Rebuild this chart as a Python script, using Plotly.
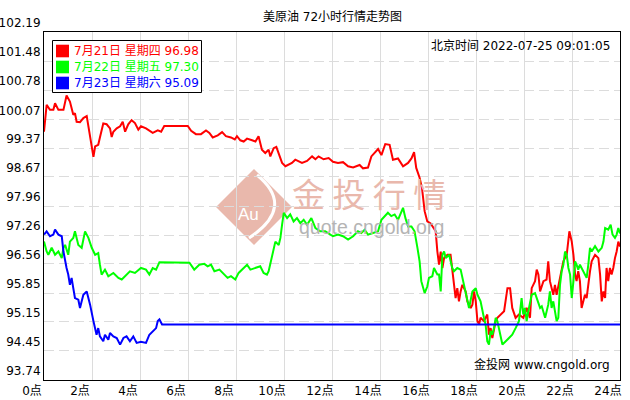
import plotly.graph_objects as go

# ---------------- data (hours since 0点, price) ----------------
red_hours = [
    0.0, 0.11, 0.25, 0.39, 0.46, 0.6, 0.81, 0.94, 1.08, 1.22, 1.29, 1.36, 1.5, 1.64, 1.78, 1.89, 1.99, 2.06, 2.13, 2.26,
    2.33, 2.4, 2.47, 2.61, 2.75, 2.82, 2.89, 3.03, 3.17, 3.28, 3.38, 3.51, 3.65, 3.79, 3.93,
    4.04, 4.25, 4.53, 4.74, 4.88, 5.01, 5.99, 6.13, 6.33, 6.54, 6.75, 6.89, 7.03, 7.24, 7.42, 7.58, 7.79, 7.95,
    8.04, 8.18, 8.32, 8.46, 8.67, 8.81, 8.94, 9.08, 9.22, 9.36, 9.43, 9.57, 9.68, 9.78, 9.92, 10.06, 10.19, 10.33,
    10.47, 10.61, 10.75, 10.96, 11.17, 11.31, 11.44, 11.65, 11.86,
    12.04, 12.25, 12.46, 12.67, 12.88, 13.15, 13.29, 13.5, 13.64, 13.78, 13.92, 14.06, 14.22, 14.4, 14.54, 14.75,
    14.96, 15.17, 15.31, 15.42, 15.51, 15.65, 15.75, 15.86,
    15.97, 16.11, 16.25, 16.32, 16.39, 16.46, 16.53, 16.6, 16.67, 16.81, 16.94, 17.01, 17.08, 17.15, 17.22, 17.29,
    17.36, 17.43, 17.5, 17.57, 17.64, 17.78, 17.85, 17.92, 17.99, 18.06, 18.13, 18.19, 18.33, 18.47, 18.54, 18.61,
    18.68, 18.75, 18.82, 18.89, 19.03, 19.17, 19.31, 19.42, 19.51, 19.65, 19.79,
    19.97, 20.11, 20.25, 20.32, 20.46, 20.53, 20.6, 20.67, 20.81, 20.94, 21.01, 21.08, 21.15, 21.22, 21.29, 21.36,
    21.5, 21.57, 21.64, 21.78, 21.89, 21.99, 22.06, 22.13, 22.19, 22.26, 22.33, 22.4, 22.47, 22.54, 22.61, 22.68,
    22.75, 22.82, 22.96, 23.1, 23.17, 23.24, 23.31, 23.38, 23.44, 23.51, 23.58, 23.65, 23.72, 23.79, 23.86, 23.93, 24.0,
]
red_price = [
    99.77, 100.42, 100.3, 100.3, 100.46, 100.3, 100.3, 100.65, 100.5, 100.18, 100.22, 100.01, 100.0, 100.1, 100.15,
    99.77, 99.35, 99.16, 99.41, 99.45, 99.63, 99.77, 99.97, 99.95, 99.85, 99.64, 99.77, 99.85, 99.9, 100.01, 99.77,
    99.95, 100.05, 99.98, 99.82,
    99.9, 99.85, 99.74, 99.8, 99.77, 99.91, 99.91, 99.79, 99.71, 99.71, 99.8, 99.74, 99.63, 99.68, 99.76, 99.66, 99.63, 99.58,
    99.66, 99.56, 99.53, 99.6, 99.56, 99.53, 99.66, 99.33, 99.25, 99.33, 99.17, 99.37, 99.4, 99.25, 99.01, 98.93, 98.96,
    99.01, 99.09, 99.04, 99.01, 99.06, 99.17, 99.1, 99.17, 99.1, 99.13,
    99.04, 99.01, 99.03, 98.93, 98.9, 98.96, 98.88, 98.9, 99.17, 99.25, 99.35, 99.2, 99.47, 99.45, 99.09, 99.12,
    98.93, 99.01, 99.12, 99.27, 98.89, 98.65, 98.4, 97.84,
    97.59, 97.54, 97.43, 97.35, 96.86, 96.54, 96.86, 96.46, 96.7, 96.78, 96.78, 96.38, 95.97, 95.73, 95.97, 95.65,
    95.89, 96.05, 95.97, 95.89, 95.65, 95.49, 95.57, 95.89, 95.65, 95.17, 95.09, 95.25, 95.17, 95.33, 94.84, 95.0,
    94.76, 95.0, 95.17, 95.25, 95.33, 95.41, 95.97, 95.97, 95.49, 95.25, 95.33,
    95.25, 95.49, 95.25, 95.97, 96.14, 96.42, 96.3, 95.89, 96.14, 96.18, 96.62, 96.14, 95.97, 95.81, 96.05, 95.81,
    96.22, 96.46, 96.62, 96.78, 97.35, 97.1, 96.78, 96.3, 96.14, 96.38, 96.14, 95.49, 95.65, 95.81, 95.73, 96.14,
    96.38, 96.62, 96.78, 96.7, 96.3, 95.65, 95.89, 95.73, 96.46, 96.14, 96.46, 96.3, 96.46, 96.7, 96.86, 97.1, 96.98,
]

green_hours = [
    0.0, 0.11, 0.18, 0.32, 0.46, 0.6, 0.74, 0.81, 0.88, 1.01, 1.08, 1.22, 1.29, 1.43, 1.57, 1.71, 1.85, 1.99, 2.13,
    2.26, 2.33, 2.4, 2.54, 2.68, 2.89, 3.1, 3.24, 3.38, 3.58, 3.79,
    4.04, 4.25, 4.39, 4.53, 4.67, 4.81, 6.06, 6.26, 6.47, 6.68, 6.82, 6.96, 7.1, 7.31, 7.51, 7.65, 7.79, 7.97,
    8.11, 8.25, 8.46, 8.6, 8.81, 9.01, 9.15, 9.29, 9.36, 9.5, 9.64, 9.78, 9.85, 9.92, 9.99, 10.13, 10.26, 10.4, 10.54,
    10.68, 10.82, 10.96, 11.14, 11.31, 11.51, 11.72, 11.93,
    12.04, 12.25, 12.46, 12.67, 12.88, 13.08, 13.22, 13.36, 13.5, 13.71, 13.92, 14.06, 14.19, 14.33, 14.47, 14.61,
    14.75, 14.89, 14.96, 15.06, 15.17, 15.31, 15.44, 15.56, 15.65, 15.72, 15.79, 15.86,
    15.97, 16.04, 16.18, 16.25, 16.39, 16.46, 16.53, 16.6, 16.67, 16.74, 16.88, 17.01, 17.08, 17.22, 17.36, 17.5,
    17.57, 17.71, 17.85, 17.99, 18.06, 18.19, 18.33, 18.4, 18.47, 18.54, 18.61, 18.68, 18.75, 18.82, 18.89, 19.0,
    19.1, 19.24, 19.38, 19.51, 19.65, 19.79,
    19.9, 19.97, 20.04, 20.11, 20.18, 20.32, 20.46, 20.53, 20.67, 20.74, 20.88, 21.01, 21.08, 21.15, 21.22, 21.36,
    21.43, 21.5, 21.57, 21.64, 21.71, 21.78, 21.85, 21.92, 21.99, 22.06, 22.13, 22.19, 22.26, 22.33, 22.47, 22.61,
    22.68, 22.75, 22.82, 22.96, 23.1, 23.24, 23.31, 23.38, 23.51, 23.61, 23.69, 23.79, 23.86, 23.93, 24.0,
]
green_price = [
    97.1, 96.86, 96.78, 96.95, 96.78, 96.86, 96.7, 96.95, 97.02, 96.78, 97.1, 97.19, 97.35, 97.02, 96.95, 97.35,
    97.19, 96.95, 96.78, 96.82, 96.54, 96.3, 96.42, 96.26, 96.34, 96.22, 96.18, 96.26, 96.38, 96.34,
    96.46, 96.42, 96.3, 96.46, 96.42, 96.6, 96.59, 96.42, 96.54, 96.56, 96.5, 96.54, 96.38, 96.42, 96.3, 96.22, 96.26, 96.18,
    96.34, 96.42, 96.54, 96.42, 96.46, 96.5, 96.34, 96.3, 96.38, 96.78, 97.1, 97.02, 97.19, 97.51, 97.8, 97.67, 97.76,
    97.59, 97.67, 97.55, 97.63, 97.51, 97.67, 97.43, 97.35, 97.35, 97.27,
    97.23, 97.27, 97.23, 97.15, 97.23, 97.35, 97.31, 97.39, 97.27, 97.31, 97.35, 97.63, 97.72, 97.8, 97.72, 97.76,
    97.63, 97.8, 97.92, 97.67, 97.47, 97.47, 97.35, 96.95, 96.62, 96.14, 95.97, 95.85,
    96.01, 96.22, 96.26, 96.46, 96.3, 96.3, 95.89, 96.78, 96.86, 96.7, 96.78, 96.46, 96.38, 96.46, 96.42, 96.05,
    95.89, 95.49, 95.89, 95.97, 95.81, 95.65, 95.25, 95.09, 94.68, 94.6, 94.93, 94.84, 95.0, 95.25, 95.17, 94.84,
    94.6, 94.68, 94.76, 94.84, 95.0, 95.17,
    95.73, 95.33, 95.49, 95.17, 95.41, 95.81, 95.85, 95.73, 95.49, 95.53, 95.25, 95.57, 95.89, 95.49, 95.65, 95.17,
    95.25, 96.05, 96.38, 96.54, 96.86, 96.78, 96.46, 96.3, 95.73, 96.14, 96.62, 96.54, 96.42, 96.54, 96.38, 96.22,
    96.54, 96.95, 96.86, 96.99, 96.86, 96.95, 97.1, 97.43, 97.39, 97.51, 97.27, 97.19, 97.27, 97.43, 97.3,
]

blue_hours = [
    0.0, 0.11, 0.25, 0.39, 0.46, 0.6, 0.74, 0.81, 0.94, 1.01, 1.08, 1.15, 1.22, 1.29, 1.43, 1.5, 1.57, 1.64, 1.78,
    1.92, 2.06, 2.13, 2.19, 2.26, 2.33, 2.47, 2.54, 2.68, 2.75, 2.89, 3.03, 3.17, 3.31, 3.44, 3.58, 3.72, 3.86,
    4.04, 4.25, 4.39, 4.53, 4.67, 4.74, 4.81, 4.92, 24.0,
]
blue_price = [
    97.27, 97.35, 97.23, 97.27, 97.39, 97.27, 97.23, 96.86, 96.46, 96.3, 96.05, 96.22, 95.97, 95.73, 95.69, 95.49,
    95.65, 95.81, 95.89, 95.57, 95.17, 95.0, 94.84, 95.0, 94.8, 94.68, 94.84, 94.72, 94.88, 94.8, 94.76, 94.6,
    94.76, 94.8, 94.68, 94.8, 94.64,
    94.67, 94.64, 94.84, 94.92, 95.0, 95.17, 95.21, 95.09, 95.09,
]

x_tick_vals = [0, 2, 4, 6, 8, 10, 12, 14, 16, 18, 20, 22, 24]
x_tick_text = ["0点", "2点", "4点", "6点", "8点", "10点", "12点", "14点", "16点", "18点", "20点", "22点", "24点"]
y_tick_vals = [93.74, 94.45, 95.15, 95.85, 96.56, 97.26, 97.96, 98.67, 99.37, 100.07, 100.78, 101.48, 102.19]

series_dates = ["7月21日", "7月22日", "7月23日"]
series_weekdays = ["星期四", "星期五", "星期六"]
series_last = [96.98, 97.30, 95.09]
series_colors = ["#ff0000", "#00ff00", "#0000ff"]

title_text = "美原油 72小时行情走势图"
timestamp_text = "北京时间 2022-07-25 09:01:05"
source_text = "金投网 www.cngold.org"

assert len(red_hours) == len(red_price)
assert len(green_hours) == len(green_price)
assert len(blue_hours) == len(blue_price)

# ---------------- layout geometry (pixels) ----------------
W, H = 630, 400
PL, PR, PT, PB = 44, 620, 32, 380
FONT = "DejaVu Sans, Noto Sans CJK SC, sans-serif"


def fx(px):
    return (px - PL) / (PR - PL)


def fy(py):
    return (PB - py) / (PB - PT)


fig = go.Figure()
for hours, prices, color in [(red_hours, red_price, series_colors[0]),
                             (green_hours, green_price, series_colors[1]),
                             (blue_hours, blue_price, series_colors[2])]:
    fig.add_trace(go.Scatter(x=hours, y=prices, mode="lines",
                             line=dict(color=color, width=2),
                             showlegend=False, hoverinfo="skip"))

shapes = []
annotations = []

# ---- watermark logo (diamond) ----
shapes.append(dict(type="path", xref="paper", yref="paper", layer="below",
                   path=f"M {fx(216)},{fy(207)} L {fx(254)},{fy(169)} L {fx(292)},{fy(207)} L {fx(254)},{fy(245)} Z",
                   fillcolor="#e9b8ac", line=dict(width=0)))
shapes.append(dict(type="path", xref="paper", yref="paper", layer="below",
                   path=f"M {fx(257)},{fy(175)} Q {fx(296)},{fy(207)} {fx(249)},{fy(238)}",
                   line=dict(color="white", width=3)))
annotations.append(dict(x=fx(248), y=fy(214), xref="paper", yref="paper", text="Au", showarrow=False,
                        font=dict(family="Liberation Sans", size=17, color="white"),
                        xanchor="center", yanchor="middle"))
annotations.append(dict(x=fx(369), y=fy(193), xref="paper", yref="paper", text="金 投 行 情", showarrow=False,
                        font=dict(family="Noto Sans CJK SC", size=33, color="#e9b8ac"),
                        xanchor="center", yanchor="middle"))
annotations.append(dict(x=fx(371), y=fy(227), xref="paper", yref="paper", text="quote.cngold.org", showarrow=False,
                        font=dict(family="Liberation Sans", size=19.5, color="#b4b4b4"),
                        xanchor="center", yanchor="middle"))

# ---- legend box ----
shapes.append(dict(type="rect", xref="paper", yref="paper", layer="above",
                   x0=fx(52.5), x1=fx(201.5), y0=fy(92.5), y1=fy(40.5),
                   fillcolor="white", line=dict(color="black", width=1)))
for i, (d, wd, last, col) in enumerate(zip(series_dates, series_weekdays, series_last, series_colors)):
    yc = 51 + 16 * i
    shapes.append(dict(type="rect", xref="paper", yref="paper", layer="above",
                       x0=fx(56), x1=fx(69), y0=fy(yc + 6.3), y1=fy(yc - 6.3),
                       fillcolor=col, line=dict(width=0)))
    annotations.append(dict(x=fx(71.5), y=fy(yc), xref="paper", yref="paper",
                            text=f"{d} {wd} {last:.2f}", showarrow=False,
                            font=dict(family=FONT, size=12, color=col),
                            xanchor="left", yanchor="middle"))

# ---- texts ----
annotations.append(dict(x=fx(332), y=fy(17), xref="paper", yref="paper", text=title_text, showarrow=False,
                        font=dict(family=FONT, size=12, color="black"), xanchor="center", yanchor="middle"))
annotations.append(dict(x=fx(612), y=fy(46.5), xref="paper", yref="paper", text=timestamp_text, showarrow=False,
                        font=dict(family=FONT, size=12, color="black"), xanchor="right", yanchor="middle"))
annotations.append(dict(x=fx(612), y=fy(364), xref="paper", yref="paper", text=source_text, showarrow=False,
                        font=dict(family=FONT, size=12, color="black"), xanchor="right", yanchor="middle"))

fig.update_layout(
    width=W, height=H,
    margin=dict(l=PL, r=W - PR, t=PT, b=H - PB, pad=0, autoexpand=False),
    paper_bgcolor="white", plot_bgcolor="white",
    font=dict(family=FONT, size=12, color="black"),
    showlegend=False,
    shapes=shapes, annotations=annotations,
    xaxis=dict(range=[0, 24], tickvals=x_tick_vals, ticktext=x_tick_text, automargin=False,
               showgrid=True, gridcolor="#dcdcdc", gridwidth=1,
               showline=True, linecolor="black", linewidth=1, mirror=True,
               ticks="", zeroline=False, ticklabelshift=-12, fixedrange=True),
    yaxis=dict(range=[93.7399, 102.1901], tickvals=y_tick_vals, ticktext=[f"{v:.2f}" for v in y_tick_vals],
               automargin=False,
               showgrid=True, gridcolor="#dcdcdc", gridwidth=1, griddash="10px,5px",
               showline=True, linecolor="black", linewidth=1, mirror=True,
               ticks="", zeroline=False, ticklabelshift=-9, fixedrange=True),
)

# remove the browser's default page margin so the 630x400 figure fills the window exactly
fig.write_html("out.html", config={"displayModeBar": False},
               post_script="document.body.style.margin='0px';document.body.style.overflow='hidden';")
